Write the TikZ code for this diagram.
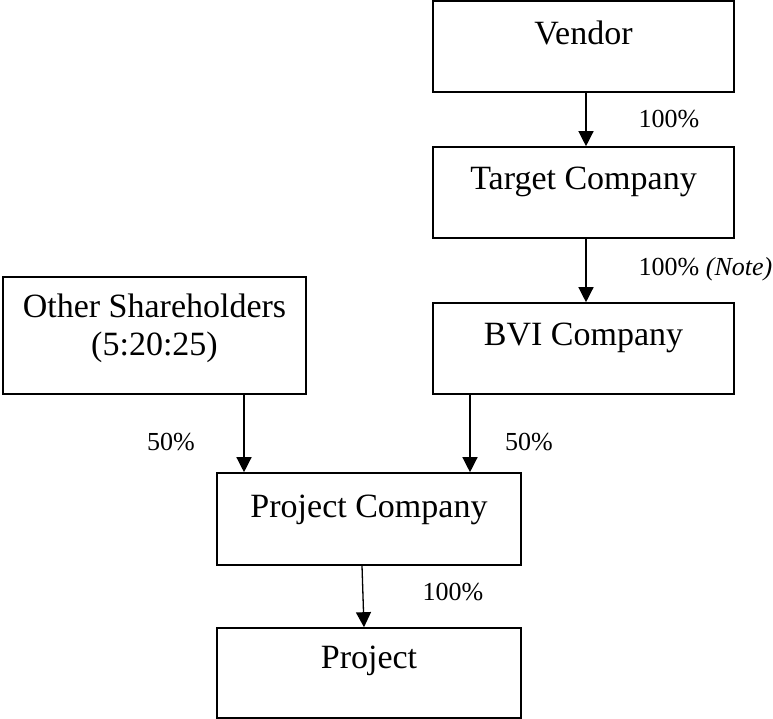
\documentclass[tikz,border=0pt]{standalone}
\usepackage{fontspec}
\setmainfont{Liberation Serif}
\usetikzlibrary{arrows.meta, positioning}
\tikzset{
  box/.style={rectangle, draw=black, fill=white, line width=1.6pt, inner xsep=0pt, inner ysep=0pt, minimum width=301pt, text height=43pt, text depth=48pt, align=center, font=\fontsize{34}{38}\selectfont},
  pct/.style={anchor=base, inner sep=0pt, font=\fontsize{26}{30}\selectfont},
  arrow/.style={-{Triangle[width=15pt, length=15pt]}, line width=1.3pt, color=black}
}
\begin{document}
\begin{tikzpicture}[x=1pt, y=-1pt]
  \useasboundingbox (0,0) rectangle (773,719);
  % Right-hand chain
  \node[box, text height=44pt, text depth=47pt] (vendor) at (583.5,46.5) {Vendor};
  \node[box] (target) at (583.5,192.5) {Target Company};
  \node[box, text height=42pt, text depth=49pt] (bvi) at (583.5,348.5) {BVI Company};
  % Left-hand holder
  \node[box, minimum width=303pt, text height=78pt, text depth=39pt] (others) at (154.5,335.5) {Other Shareholders\\(5:20:25)};
  % Bottom
  \node[box, minimum width=304pt, text height=44pt, text depth=48pt] (projco) at (369,519) {Project Company};
  \node[box, minimum width=304pt, text height=40pt, text depth=50pt] (project) at (369,673) {Project};

  % Shareholdings
  \draw[arrow] ([xshift=2.5pt]vendor.south) -- ([xshift=2.5pt]target.north);
  \draw[arrow] ([xshift=2.5pt]target.south) -- ([xshift=2.5pt]bvi.north);
  \draw[arrow] ([xshift=89.5pt]others.south) -- ([xshift=-125pt]projco.north);
  \draw[arrow] ([xshift=-113.5pt]bvi.south) -- ([xshift=101pt]projco.north);
  \draw[arrow] ([xshift=-7pt]projco.south) -- ([xshift=-5pt]project.north);

  \node[pct] (p1) at (669,128) {100\%};
  \node[pct] (p2) at (705.5,275) {100\% \textit{(Note)}};
  \node[pct] (p3) at (171,450) {50\%};
  \node[pct] (p4) at (529,450) {50\%};
  \node[pct] (p5) at (453,600) {100\%};
\end{tikzpicture}
\end{document}
